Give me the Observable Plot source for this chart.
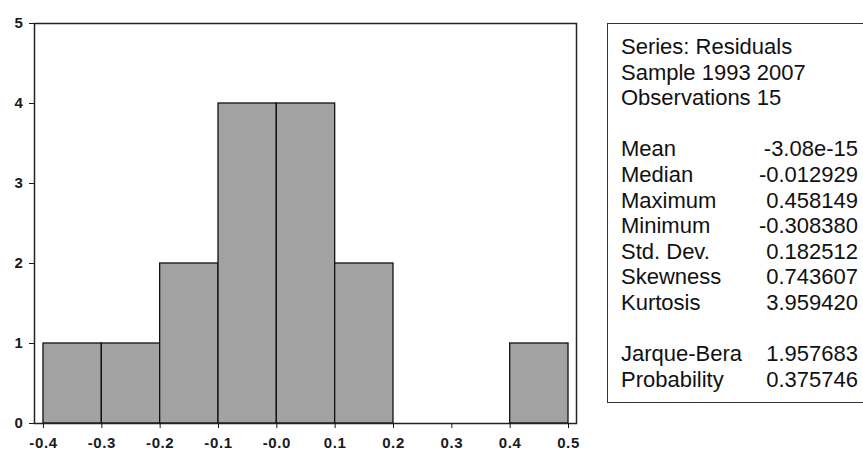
<!DOCTYPE html>
<html>
<head>
<meta charset="utf-8">
<script src="https://cdn.jsdelivr.net/npm/d3@7"></script>
<script src="https://cdn.jsdelivr.net/npm/@observablehq/plot@0.6"></script>
<style>
  body { margin: 0; background: #fff; font-family: "Liberation Sans", Arial, sans-serif; }
  #wrap { position: relative; width: 863px; height: 451px; overflow: hidden; }
  #chart { position: absolute; left: 0; top: 0; }
  #chart svg text { font-size: 15px !important; font-weight: bold !important; letter-spacing: 0.6px;
                    font-family: "Liberation Sans", Arial, sans-serif !important; fill: #1a1a1a; }
  #stats { position: absolute; left: 607px; top: 23px; width: 280px; height: 380px;
           border: 1.5px solid #333; box-sizing: border-box; font-size: 22px; color: #111; }
  #stats .row { position: absolute; left: 13px; white-space: nowrap; line-height: 1; }
  #stats .val { position: absolute; right: 28px; white-space: nowrap; line-height: 1; }
</style>
</head>
<body>
<div id="wrap">
  <div id="chart"></div>
  <div id="stats"></div>
</div>
<script>
// Histogram data
const binStarts = [-0.4, -0.3, -0.2, -0.1, 0.0, 0.1, 0.2, 0.3, 0.4];
const binEnds   = [-0.3, -0.2, -0.1, 0.0, 0.1, 0.2, 0.3, 0.4, 0.5];
const counts    = [1, 1, 2, 4, 4, 2, 0, 0, 1];
const xTicks = [-0.4, -0.3, -0.2, -0.1, 0.0, 0.1, 0.2, 0.3, 0.4, 0.5];
const xTickLabels = ["-0.4", "-0.3", "-0.2", "-0.1", "-0.0", "0.1", "0.2", "0.3", "0.4", "0.5"];
const yTicks = [0, 1, 2, 3, 4, 5];

// Stats box
const headerLines = ["Series: Residuals", "Sample 1993 2007", "Observations 15"];
const statLabels = ["Mean", "Median", "Maximum", "Minimum", "Std. Dev.", "Skewness", "Kurtosis"];
const statValues = ["-3.08e-15", "-0.012929", "0.458149", "-0.308380", "0.182512", "0.743607", "3.959420"];
const testLabels = ["Jarque-Bera", "Probability"];
const testValues = ["1.957683", "0.375746"];

const bins = binStarts.map((s, i) => ({x1: s, x2: binEnds[i], y: counts[i]})).filter(d => d.y > 0);

const plot = Plot.plot({
  width: 590,
  height: 451,
  marginLeft: 34,
  marginRight: 14,
  marginTop: 23,
  marginBottom: 28,
  style: {fontFamily: "'Liberation Sans', Arial, sans-serif", fontSize: "15px", color: "#1a1a1a", background: "#fff"},
  x: {domain: [-0.4154, 0.5137], label: null},
  y: {domain: [0, 5], label: null},
  marks: [
    Plot.rect(bins, {x1: "x1", x2: "x2", y1: 0, y2: "y", fill: "#a2a2a2", stroke: "#111", strokeWidth: 1.3, inset: 0}),
    Plot.frame({stroke: "#222", strokeWidth: 1.5}),
    Plot.axisX({ticks: xTicks, tickFormat: (d, i) => xTickLabels[i], tickSize: 5, tickPadding: 9, label: null}),
    Plot.axisY({ticks: yTicks, tickFormat: d3.format("d"), tickSize: 5, tickPadding: 6, label: null})
  ]
});
document.getElementById("chart").appendChild(plot);

const stats = document.getElementById("stats");
const lineH = 25.6;
const firstTop = 12;
function addRow(label, value, slot) {
  const top = firstTop + slot * lineH;
  const l = document.createElement("div");
  l.className = "row"; l.style.top = top + "px"; l.textContent = label;
  stats.appendChild(l);
  if (value !== undefined) {
    const v = document.createElement("div");
    v.className = "val"; v.style.top = top + "px";
    v.textContent = value;
    stats.appendChild(v);
  }
}
headerLines.forEach((t, i) => addRow(t, undefined, i));
statLabels.forEach((t, i) => addRow(t, statValues[i], 4 + i));
testLabels.forEach((t, i) => addRow(t, testValues[i], 12 + i));
</script>
</body>
</html>
